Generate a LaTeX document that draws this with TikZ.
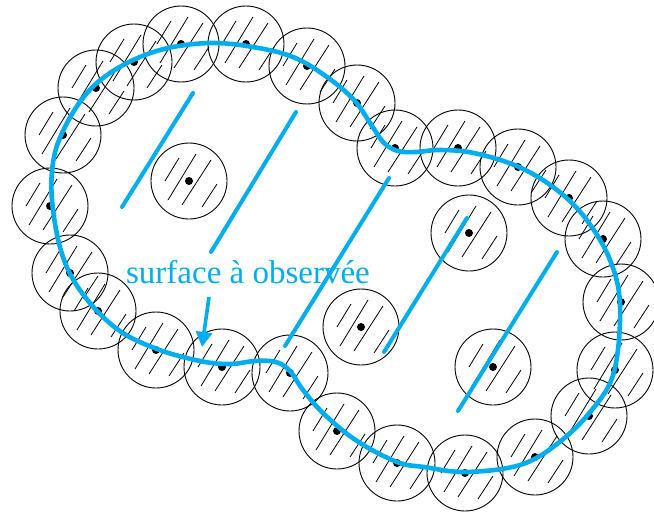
\documentclass[tikz,border=0pt]{standalone}
\usepackage{fontspec}
\setmainfont{Liberation Serif}
\usetikzlibrary{arrows.meta}
\definecolor{ink}{HTML}{000000}
\definecolor{trace}{HTML}{00AEEF}
\tikzset{boule/.style={circle,draw=ink,line width=0.9pt,minimum size=76pt,inner sep=0},
  hachure/.style={ink,line width=0.8pt},
  contour/.style={trace,line width=4.6pt},
  trait/.style={trace,line width=4pt,line cap=round},
  fleche/.style={trace,line width=3.6pt,-{Triangle[length=15pt,width=16pt]}}}
% une boule hachuree avec son centre
\newcommand{\boule}[3]{\node[boule] (#1) at (#2,#3) {};
  \draw[hachure] ([shift={(-24,0)}]#1.center) -- ++(14,-23)
    ([shift={(-21,19)}]#1.center) -- ++(28,-46)
    ([shift={(-7,24)}]#1.center) -- ++(29,-45)
    ([shift={(13,26)}]#1.center) -- ++(15,-23);
  \fill[ink] (#1.center) circle[radius=4pt];}

\begin{document}
\begin{tikzpicture}[x=1pt,y=-1pt]
\useasboundingbox (0,0) rectangle (654,514);
% boules du bord
\foreach \n/\cx/\cy in {1/50/206,2/63/135,3/96/88,4/134/62,5/181/44,6/246/44,7/307/66,
    8/357/103,9/395/148,10/458/148,11/518/167,12/569/198,13/603/239,14/621/302,
    15/615/370,16/589/416,17/535/457,18/465/473,19/397/463,20/337/431,21/290/373,
    22/222/367,23/156/350,24/98/311,25/70/273}
  {\boule{b\n}{\cx}{\cy}}
% boules de l'interieur
\foreach \n/\cx/\cy in {1/189/181,2/469/233,3/361/327,4/493/367}
  {\boule{i\n}{\cx}{\cy}}
% la surface
\draw[contour] plot[smooth cycle,tension=0.6] coordinates {
  (213,43) (253,47) (293,57) (327,77) (354,100) (372,126) (384,143) (398,151)
  (416,152) (440,150) (474,153) (519,167) (557,190) (586,219) (610,260) (620,305)
  (614,372) (591,411) (557,444) (520,465) (466,472) (424,467) (397,462) (357,441)
  (324,414) (303,390) (290,371) (276,362) (255,361) (230,364) (200,361) (157,349)
  (117,329) (82,293) (62,254) (52,200) (54,157) (67,123) (87,93) (110,73) (140,57)
  (173,47)};
\draw[trait] (193,93) -- (122,207);
\draw[trait] (296,112) -- (211,252);
\draw[trait] (389,178) -- (285,346);
\draw[trait] (467,218) -- (384,352);
\draw[trait] (557,252) -- (458,411);
\node[text=trace,font=\fontsize{33}{36}\selectfont,inner sep=0] (etiquette) at (248,272) {surface à observée};
\coordinate (pointe) at (202,347);
\draw[fleche] ([xshift=-39pt,yshift=-13pt]etiquette.south) -- (pointe);
\end{tikzpicture}
\end{document}
